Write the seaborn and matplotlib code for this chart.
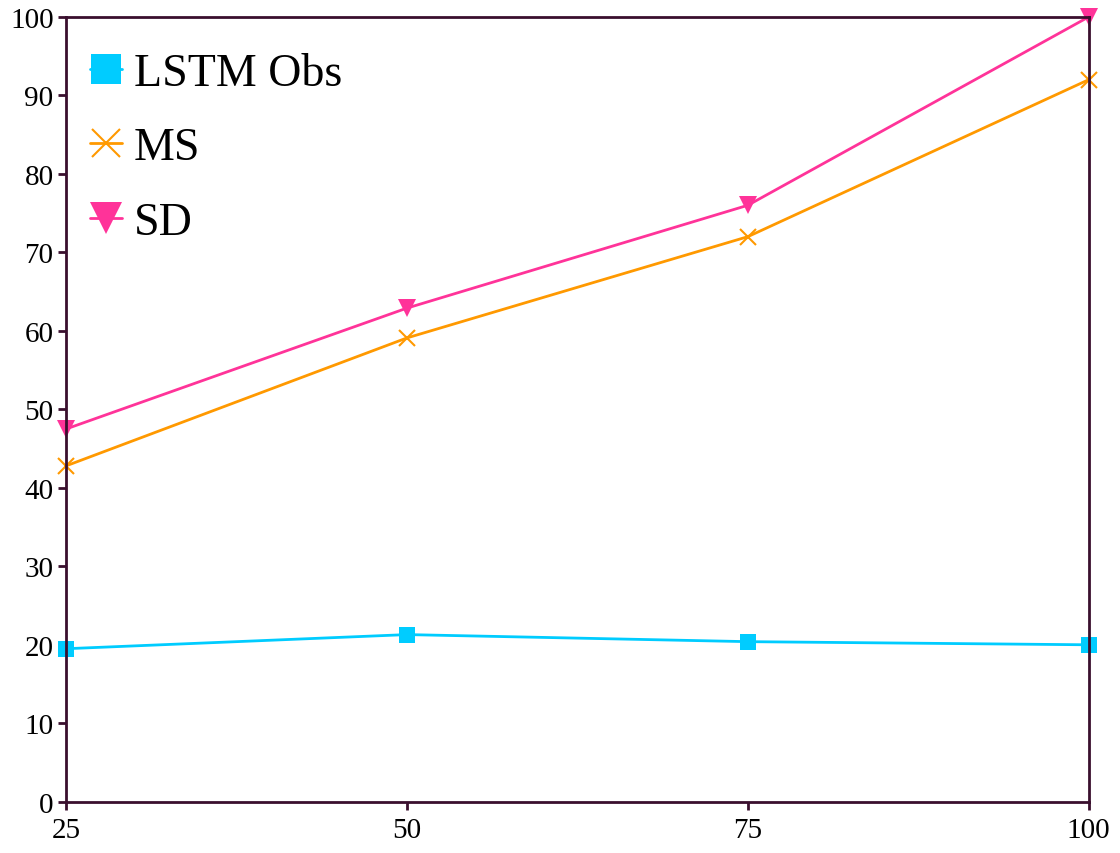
import matplotlib
matplotlib.use("Agg")
import matplotlib.pyplot as plt
import seaborn as sns

steps = [25, 50, 75, 100]
lstm_obs = [19.5, 21.3, 20.4, 20.0]
ms = [42.8, 59.1, 72.0, 92.0]
sd = [47.5, 62.9, 76.0, 100.0]
series_names = ["LSTM Obs", "MS", "SD"]
y_ticks = list(range(0, 101, 10))

sns.set_theme(style="white")
plt.rcParams["font.family"] = ["Liberation Serif", "DejaVu Serif"]

colors = ["#00CCFF", "#FF9900", "#FF3399"]
marker_styles = ["s", "x", "v"]
marker_sizes = [12, 11, 13]

fig = plt.figure(figsize=(11.2, 8.54), dpi=100)
ax = fig.add_axes([0.059, 0.06, 0.913, 0.919])

for name, values, color, mk, ms_ in zip(series_names, [lstm_obs, ms, sd], colors,
                                        marker_styles, marker_sizes):
    kw = dict(marker=mk, markersize=ms_, color=color, linewidth=2.0,
              label=name, ax=ax, clip_on=False)
    if mk == "x":
        kw.update(markeredgewidth=1.5, markeredgecolor=color)
    else:
        kw.update(markeredgewidth=0, markerfacecolor=color)
    sns.lineplot(x=steps, y=values, **kw)

ax.set_xlim(25, 100)
ax.set_ylim(0, 100)
ax.set_xticks(steps)
ax.set_yticks(y_ticks)
ax.set_xlabel("")
ax.set_ylabel("")

spine_color = "#3A0F2E"
for s in ax.spines.values():
    s.set_color(spine_color)
    s.set_linewidth(2)
ax.tick_params(axis="both", direction="out", length=6, width=2,
               color=spine_color, labelsize=21, labelcolor="black", pad=3)
ax.tick_params(axis="x", pad=5)
ax.tick_params(bottom=True, left=True)

leg = ax.legend(loc="upper left", frameon=False, fontsize=33,
                handlelength=0.7, handletextpad=0.25, labelspacing=0.7,
                borderaxespad=0.0, borderpad=0.0, markerscale=1.8,
                bbox_to_anchor=(0.0235, 0.955))
for txt in leg.get_texts():
    txt.set_color("black")

fig.savefig("out.png", dpi=100)
